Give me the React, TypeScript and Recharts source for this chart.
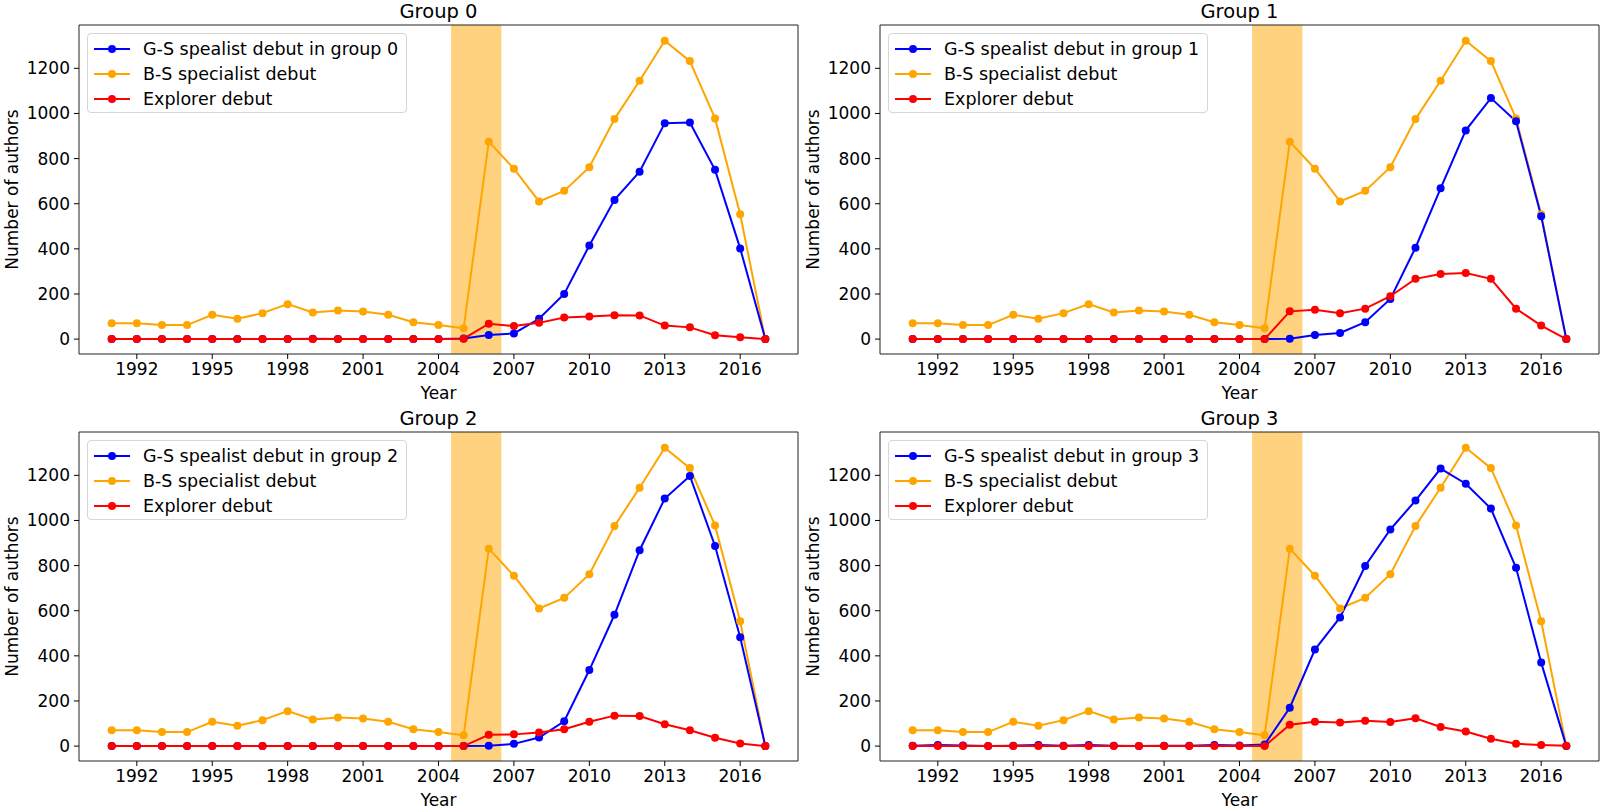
import {
  LineChart,
  Line,
  XAxis,
  YAxis,
  ReferenceArea,
  Legend,
} from 'recharts';

const years = [
  1991, 1992, 1993, 1994, 1995, 1996, 1997, 1998, 1999, 2000, 2001, 2002, 2003, 2004,
  2005, 2006, 2007, 2008, 2009, 2010, 2011, 2012, 2013, 2014, 2015, 2016, 2017,
];
const xTicks = [1992, 1995, 1998, 2001, 2004, 2007, 2010, 2013, 2016];
const yTicks = [0, 200, 400, 600, 800, 1000, 1200];
const xDomain = [1989.7, 2018.3];
const yDomain = [-66, 1392];
const shadeRange = [2004.5, 2006.5];

const bsSpecialist = [
  70, 70, 62, 62, 108, 90, 115, 155, 118, 127, 122, 108, 75, 63,
  48, 875, 755, 610, 657, 762, 975, 1145, 1322, 1232, 978, 553, 0,
];

const gsGroup0 = [
  0, 0, 0, 0, 0, 0, 0, 0, 2, 0, 0, 0, 0, 0,
  3, 18, 25, 90, 200, 415, 617, 742, 957, 960, 750, 402, 0,
];
const explorerGroup0 = [
  0, 0, 0, 0, 0, 0, 0, 0, 0, 0, 0, 0, 0, 0,
  2, 68, 58, 72, 96, 100, 106, 105, 60, 52, 17, 8, 0,
];

const gsGroup1 = [
  0, 0, 0, 0, 0, 0, 0, 0, 0, 0, 0, 0, 0, 0,
  0, 2, 18, 27, 75, 178, 405, 668, 925, 1068, 965, 545, 0,
];
const explorerGroup1 = [
  0, 0, 0, 0, 0, 0, 0, 0, 0, 0, 0, 0, 0, 0,
  0, 123, 130, 115, 135, 190, 267, 288, 293, 267, 135, 60, 0,
];

const gsGroup2 = [
  0, 0, 0, 0, 0, 0, 0, 0, 0, 0, 0, 0, 0, 0,
  0, 2, 10, 38, 110, 337, 582, 868, 1097, 1197, 887, 482, 0,
];
const explorerGroup2 = [
  0, 0, 0, 0, 0, 0, 0, 0, 0, 0, 0, 0, 0, 0,
  0, 50, 52, 60, 75, 108, 135, 133, 97, 70, 37, 12, 0,
];

const gsGroup3 = [
  2, 5, 3, 0, 2, 5, 2, 5, 2, 1, 2, 2, 5, 3,
  7, 170, 428, 570, 798, 960, 1088, 1230, 1163, 1053, 790, 370, 0,
];
const explorerGroup3 = [
  0, 0, 0, 0, 0, 0, 0, 0, 0, 0, 0, 0, 0, 0,
  0, 95, 108, 105, 112, 107, 123, 85, 65, 33, 10, 5, 2,
];

const groups = [
  { name: 'Group 0', gs: gsGroup0, explorer: explorerGroup0 },
  { name: 'Group 1', gs: gsGroup1, explorer: explorerGroup1 },
  { name: 'Group 2', gs: gsGroup2, explorer: explorerGroup2 },
  { name: 'Group 3', gs: gsGroup3, explorer: explorerGroup3 },
];

const FONT = '"DejaVu Sans", sans-serif';
const CHART_W = 801;
const CHART_H = 407;
// plot area spans y 25..354 inside each chart
const MARGIN = { top: 25, right: 3, bottom: 7, left: 0 };
const legendOrder = ['gs', 'bs', 'explorer'];

const tickStyle = { fontSize: 17, fontFamily: FONT, fill: '#000' };

function renderLegend(props: any) {
  const payload = props.payload || [];
  const items = legendOrder
    .map((key) => payload.find((p: any) => p.dataKey === key))
    .filter(Boolean);
  return (
    <div
      style={{
        border: '1px solid #d6d6d6',
        borderRadius: 4,
        background: 'rgba(255,255,255,0.8)',
        padding: '2px 8px 1px 6px',
        fontFamily: FONT,
        fontSize: 17.5,
        color: '#000',
        whiteSpace: 'nowrap',
      }}
    >
      {items.map((item: any) => (
        <div key={item.dataKey} style={{ height: 25, display: 'flex', alignItems: 'center' }}>
          <svg width={36} height={10} style={{ marginRight: 13 }}>
            <line x1={0} y1={5} x2={36} y2={5} stroke={item.color} strokeWidth={2} />
            <circle cx={18} cy={5} r={4} fill={item.color} />
          </svg>
          <span>{item.value}</span>
        </div>
      ))}
    </div>
  );
}

function Panel({ group, index, left, top }: { group: any; index: number; left: number; top: number }) {
  const data = years.map((year, i) => ({
    year,
    gs: group.gs[i],
    bs: bsSpecialist[i],
    explorer: group.explorer[i],
  }));

  return (
    <div style={{ position: 'absolute', left, top, width: CHART_W, height: CHART_H }}>
      <div
        style={{
          position: 'absolute',
          left: 79,
          top: 0,
          width: 719,
          textAlign: 'center',
          fontFamily: FONT,
          fontSize: 19.5,
          color: '#000',
        }}
      >
        {group.name}
      </div>
      <LineChart width={CHART_W} height={CHART_H} data={data} margin={MARGIN}>
        <ReferenceArea
          x1={shadeRange[0]}
          x2={shadeRange[1]}
          fill="#FFA500"
          fillOpacity={0.5}
          stroke="none"
        />
        <XAxis
          dataKey="year"
          type="number"
          domain={xDomain}
          ticks={xTicks}
          allowDataOverflow
          height={46}
          axisLine={false}
          tickLine={{ stroke: '#000', strokeWidth: 1 }}
          tickSize={5}
          tickMargin={4}
          tick={tickStyle}
          label={{
            value: 'Year',
            position: 'insideBottom',
            offset: 1,
            style: { fontSize: 17, fontFamily: FONT, fill: '#000' },
          }}
        />
        <YAxis
          type="number"
          domain={yDomain}
          ticks={yTicks}
          allowDataOverflow
          width={79}
          axisLine={false}
          tickLine={{ stroke: '#000', strokeWidth: 1 }}
          tickSize={5}
          tickMargin={4}
          tick={tickStyle}
          label={{
            value: 'Number of authors',
            angle: -90,
            position: 'insideLeft',
            offset: 12,
            style: { fontSize: 17, fontFamily: FONT, fill: '#000', textAnchor: 'middle' },
          }}
        />
        <Line
          type="linear"
          dataKey="bs"
          name="B-S specialist debut"
          stroke="#FFA500"
          strokeWidth={2}
          dot={{ r: 4, fill: '#FFA500', stroke: '#FFA500', strokeWidth: 0 }}
          activeDot={false}
          isAnimationActive={false}
        />
        <Line
          type="linear"
          dataKey="gs"
          name={`G-S spealist debut in group ${index}`}
          stroke="#0000FF"
          strokeWidth={2}
          dot={{ r: 4, fill: '#0000FF', stroke: '#0000FF', strokeWidth: 0 }}
          activeDot={false}
          isAnimationActive={false}
        />
        <Line
          type="linear"
          dataKey="explorer"
          name="Explorer debut"
          stroke="#FF0000"
          strokeWidth={2}
          dot={{ r: 4, fill: '#FF0000', stroke: '#FF0000', strokeWidth: 0 }}
          activeDot={false}
          isAnimationActive={false}
        />
        <ReferenceArea
          x1={xDomain[0]}
          x2={xDomain[1]}
          y1={yDomain[0]}
          y2={yDomain[1]}
          fill="none"
          stroke="#222"
          strokeWidth={1}
        />
        <Legend
          layout="vertical"
          align="center"
          verticalAlign="middle"
          content={renderLegend}
          wrapperStyle={{ left: 87, top: 33, width: 'auto', height: 'auto' }}
        />
      </LineChart>
    </div>
  );
}

export default function App() {
  return (
    <div
      style={{
        position: 'absolute',
        left: 0,
        top: 0,
        width: 1603,
        height: 811,
        background: '#fff',
        overflow: 'hidden',
      }}
    >
      {groups.map((group, i) => (
        <Panel
          key={group.name}
          group={group}
          index={i}
          left={(i % 2) * 801}
          top={Math.floor(i / 2) * 407}
        />
      ))}
    </div>
  );
}
